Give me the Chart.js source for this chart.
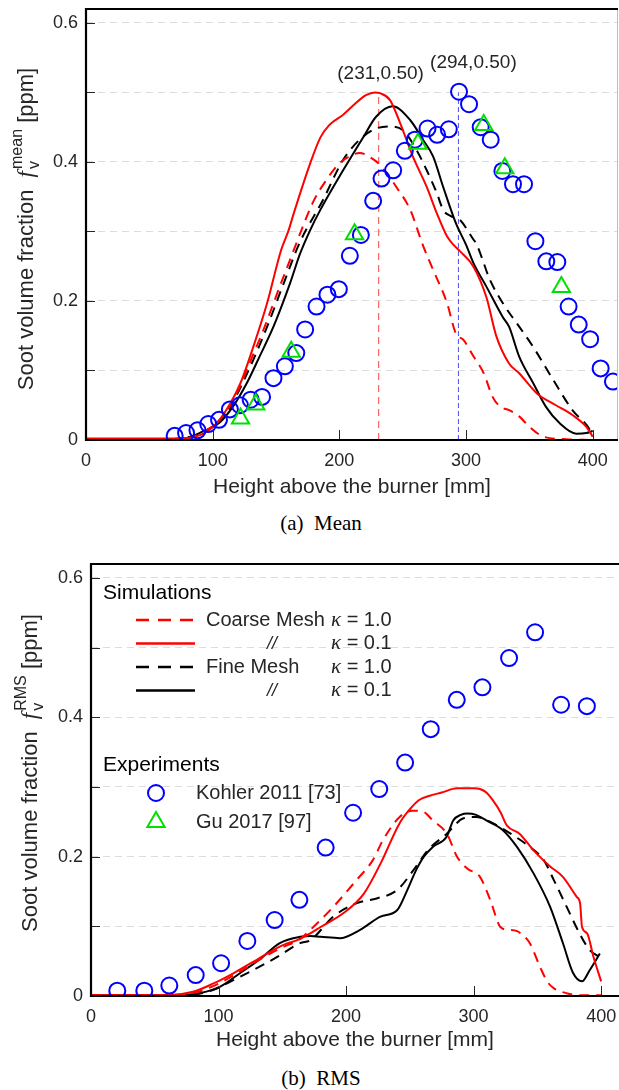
<!DOCTYPE html>
<html>
<head>
<meta charset="utf-8">
<script src="https://cdn.jsdelivr.net/npm/chart.js@4.4.0/dist/chart.umd.min.js"></script>
<style>
  html, body { margin: 0; padding: 0; background: #fff; }
  body { width: 619px; height: 1090px; position: relative; overflow: hidden; }
  canvas { position: absolute; left: 0; }
  .caption { position: absolute; left: 0; width: 642px; text-align: center; font: 21px "Liberation Serif", "Times New Roman", serif; color: #000; white-space: pre; line-height: 24px; }
</style>
</head>
<body>
<canvas id="meanChart" width="619" height="500" style="top:0"></canvas>
<div class="caption" style="top:511px">(a)  Mean</div>
<canvas id="rmsChart" width="619" height="515" style="top:545px"></canvas>
<div class="caption" style="top:1066px">(b)  RMS</div>

<script>
// ---- tick values (shared by both panels) ----
const yTickValues = [0, 0.1, 0.2, 0.3, 0.4, 0.5, 0.6];
const yTickLabels = ['0', '', '0.2', '', '0.4', '', '0.6'];
const xTickValues = [0, 100, 200, 300, 400];
const xTickLabels = ['0', '100', '200', '300', '400'];

// ---- (a) Mean: simulations [height mm, fv ppm] ----
const meanCoarseK1 = [[0,0.001],[60,0.001],[79,0.002],[95,0.014],[108,0.034],[119,0.067],[129,0.110],[140,0.158],[153,0.221],[164,0.273],[169,0.297],[180,0.345],[189,0.372],[200,0.398],[208,0.408],[216,0.413],[224,0.407],[232,0.396],[245,0.364],[256,0.331],[266,0.280],[274,0.245],[285,0.197],[292,0.153],[298,0.144],[306,0.120],[314,0.096],[321,0.062],[327,0.048],[334,0.043],[342,0.034],[350,0.019],[361,0.005],[379,0.001],[400,0.0]];
const meanCoarseK01 = [[0,0.002],[40,0.002],[70,0.002],[90,0.007],[103,0.024],[114,0.053],[122,0.082],[133,0.139],[143,0.197],[154,0.273],[160,0.302],[164,0.326],[177,0.398],[185,0.435],[192,0.453],[203,0.468],[212,0.483],[221,0.496],[228,0.500],[232,0.499],[240,0.489],[248,0.456],[258,0.408],[269,0.364],[277,0.326],[285,0.293],[290,0.281],[295,0.272],[306,0.249],[316,0.206],[324,0.149],[334,0.110],[342,0.096],[356,0.067],[371,0.050],[384,0.036],[395,0.019],[400,0.005]];
const meanFineK1 = [[0,0.001],[60,0.001],[87,0.007],[100,0.019],[111,0.038],[121,0.072],[132,0.115],[143,0.163],[156,0.225],[169,0.285],[187,0.345],[203,0.403],[216,0.432],[229,0.448],[240,0.451],[250,0.446],[261,0.417],[269,0.388],[277,0.355],[282,0.331],[288,0.322],[295,0.317],[306,0.288],[308,0.283],[319,0.230],[329,0.197],[342,0.163],[353,0.134],[369,0.086],[384,0.043],[398,0.014],[400,0.005]];
const meanFineK01 = [[0,0.001],[60,0.001],[77,0.002],[92,0.012],[106,0.026],[116,0.048],[127,0.082],[137,0.120],[148,0.163],[161,0.225],[169,0.268],[177,0.302],[185,0.331],[203,0.388],[219,0.436],[229,0.465],[242,0.480],[256,0.460],[266,0.432],[274,0.408],[282,0.364],[292,0.312],[300,0.281],[306,0.254],[316,0.221],[329,0.177],[334,0.163],[342,0.120],[353,0.082],[363,0.048],[374,0.024],[387,0.009],[395,0.010],[400,0.013]];

// ---- (a) Mean: experiments ----
const meanKohler = [[70,0.006],[79,0.010],[88,0.014],[96.5,0.023],[105,0.029],[113.6,0.044],[121.5,0.050],[130,0.058],[139,0.062],[148,0.089],[157,0.106],[166,0.125],[173,0.159],[182,0.192],[190.6,0.209],[199.6,0.217],[208.3,0.265],[217,0.295],[226.7,0.344],[233.3,0.376],[242.5,0.388],[251.7,0.416],[259.6,0.432],[269.6,0.448],[277.2,0.439],[286.4,0.447],[294.5,0.501],[302.4,0.483],[311.6,0.450],[319.5,0.432],[328.7,0.387],[337.1,0.368],[345.8,0.368],[354.8,0.286],[363.4,0.257],[372.1,0.256],[381,0.192],[389,0.166],[398,0.145],[406.3,0.103],[416,0.084]];
const meanGu = [[122,0.031],[134,0.051],[162,0.127],[212,0.296],[262,0.426],[314,0.453],[330.6,0.391],[375.3,0.220]];

// ---- (a) Mean: peak markers ----
const peakCoarse = [[231,0],[231,0.50]];
const peakKohler = [[294,0],[294,0.50]];
const peakNotes = ['(231,0.50)', '(294,0.50)'];

// ---- (b) RMS: simulations ----
const rmsCoarseK1 = [[0,0.001],[60,0.001],[82,0.005],[98,0.016],[114,0.032],[130,0.050],[148,0.068],[164,0.082],[172,0.095],[190,0.128],[208,0.166],[221,0.195],[229,0.224],[242,0.257],[252,0.266],[260,0.265],[268,0.252],[279,0.233],[287,0.200],[295,0.183],[305,0.171],[313,0.138],[321,0.099],[327,0.095],[334,0.093],[344,0.076],[352,0.042],[358,0.020],[363,0.011],[373,0.004],[385,0.001],[400,0.001]];
const rmsCoarseK01 = [[0,0.001],[60,0.001],[80,0.006],[96,0.018],[112,0.033],[130,0.052],[148,0.071],[164,0.082],[172,0.090],[180,0.099],[198,0.119],[214,0.147],[227,0.190],[242,0.248],[250,0.268],[257,0.281],[265,0.287],[275,0.292],[287,0.298],[300,0.298],[305,0.297],[310,0.292],[315,0.281],[321,0.264],[326,0.245],[336,0.233],[347,0.209],[360,0.186],[370,0.171],[381,0.142],[383.5,0.133],[385,0.099],[389,0.090],[394,0.056],[400,0.021]];
const rmsFineK1 = [[0,0.001],[60,0.001],[80,0.002],[96,0.009],[112,0.023],[127,0.037],[146,0.056],[164,0.076],[172,0.080],[190,0.114],[208,0.133],[224,0.140],[240,0.152],[253,0.181],[264,0.209],[279,0.233],[292,0.255],[302,0.257],[315,0.248],[329,0.233],[344,0.214],[355,0.195],[363,0.166],[373,0.128],[383,0.090],[391,0.066],[399,0.056]];
const rmsFineK01 = [[0,0.001],[60,0.001],[85,0.004],[101,0.013],[117,0.033],[132,0.052],[148,0.076],[164,0.085],[172,0.086],[180,0.085],[195,0.083],[211,0.095],[227,0.114],[240,0.123],[248,0.152],[255,0.181],[261,0.200],[268,0.214],[279,0.229],[284,0.252],[290,0.260],[295,0.262],[302,0.260],[310,0.252],[323,0.238],[334,0.214],[347,0.176],[360,0.128],[370,0.076],[378,0.033],[385,0.021],[391,0.037],[399,0.061]];

// ---- (b) RMS: experiments ----
const rmsKohler = [[20.6,0.0076],[41.8,0.0076],[61.4,0.015],[82.1,0.030],[102,0.047],[122.6,0.079],[144,0.109],[163.4,0.138],[184,0.213],[205.5,0.263],[226,0.297],[246.3,0.335],[266.4,0.383],[286.8,0.425],[306.9,0.443],[327.8,0.485],[348.2,0.522],[368.6,0.418],[388.8,0.416]];
const rmsGu = [];

const SANS = '"Liberation Sans", Arial, Helvetica, sans-serif';
const SERIF = '"Liberation Serif", "Times New Roman", serif';
const TXT = '#262626';

const RED = '#ff0000', BLACK = '#000000', BLUE = '#0000ff', GREEN = '#00e000';
const DASH = [10, 7];

function pts(arr) {
  return arr.map(p => ({ x: p[0], y: p[1] }));
}

function simLine(label, arr, color, dashed) {
  return {
    label: label,
    data: pts(arr),
    showLine: true,
    borderColor: color,
    borderWidth: 2,
    borderDash: dashed ? DASH : [],
    pointRadius: 0,
    cubicInterpolationMode: 'monotone',
    fill: false,
    order: 2
  };
}

function kohlerSet(arr) {
  return {
    label: 'Kohler 2011 [73]',
    data: pts(arr),
    showLine: false,
    pointStyle: 'circle',
    pointRadius: 8,
    pointBorderWidth: 2,
    pointBorderColor: BLUE,
    pointBackgroundColor: 'rgba(0,0,0,0)',
    order: 1
  };
}

function guSet(arr) {
  return {
    label: 'Gu 2017 [97]',
    data: pts(arr),
    showLine: false,
    pointStyle: 'triangle',
    pointRadius: 10,
    pointBorderWidth: 2,
    pointBorderColor: GREEN,
    pointBackgroundColor: 'rgba(0,0,0,0)',
    order: 0
  };
}

function guideLine(arr, color, dash, width) {
  return {
    label: 'peak',
    data: pts(arr),
    showLine: true,
    borderColor: color,
    borderWidth: width,
    borderDash: dash,
    pointRadius: 0,
    order: 3
  };
}

// y title with f_v sub/superscript, drawn rotated
function drawYTitle(ctx, cx, cy, sup) {
  const main = 'Soot volume fraction  ';
  ctx.save();
  ctx.translate(cx, cy);
  ctx.rotate(-Math.PI / 2);
  ctx.fillStyle = TXT;
  ctx.textBaseline = 'alphabetic';
  ctx.textAlign = 'left';
  ctx.font = '22px ' + SANS;
  const w0 = ctx.measureText(main).width;
  const wend = ctx.measureText(' [ppm]').width;
  ctx.font = 'italic 23px ' + SERIF;
  const wf = ctx.measureText('f').width + 2;
  ctx.font = '16px ' + SANS;
  const wsub = ctx.measureText('v').width;
  const wsup = ctx.measureText(sup).width;
  const total = w0 + wf + Math.max(wsub, wsup) + wend;
  let x = -total / 2;
  ctx.font = '22px ' + SANS;
  ctx.fillText(main, x, 0);
  x += w0;
  ctx.font = 'italic 23px ' + SERIF;
  ctx.fillText('f', x, 0);
  x += wf;
  ctx.font = '16px ' + SANS;
  ctx.fillText('v', x, 6);
  ctx.fillText(sup, x, -11);
  x += Math.max(wsub, wsup);
  ctx.font = '22px ' + SANS;
  ctx.fillText(' [ppm]', x, 0);
  ctx.restore();
}

const framePlugin = {
  id: 'frame',
  afterDraw(chart, args, opts) {
    const ctx = chart.ctx;
    const a = chart.chartArea;
    const xs = chart.scales.x, ys = chart.scales.y;
    ctx.save();
    // inner tick marks
    ctx.strokeStyle = TXT;
    ctx.lineWidth = 1;
    ctx.beginPath();
    yTickValues.forEach(v => {
      const py = Math.round(ys.getPixelForValue(v)) + 0.5;
      ctx.moveTo(a.left, py);
      ctx.lineTo(a.left + 9, py);
    });
    xTickValues.forEach(v => {
      const px = Math.round(xs.getPixelForValue(v)) + 0.5;
      ctx.moveTo(px, a.bottom);
      ctx.lineTo(px, a.bottom - 10);
    });
    ctx.stroke();
    // right border (light)
    if (opts.rightBorder) {
      ctx.strokeStyle = '#bdbdbd';
      ctx.lineWidth = 1;
      ctx.beginPath();
      ctx.moveTo(a.right - 0.5, a.top);
      ctx.lineTo(a.right - 0.5, a.bottom);
      ctx.stroke();
    }
    // axes + top border
    ctx.strokeStyle = '#000';
    ctx.lineWidth = 2.2;
    ctx.beginPath();
    ctx.moveTo(a.right, a.top);
    ctx.lineTo(a.left, a.top);
    ctx.lineTo(a.left, a.bottom);
    ctx.lineTo(a.right, a.bottom);
    ctx.stroke();

    // axis titles
    drawYTitle(ctx, opts.yTitleX, opts.yTitleY, opts.sup);
    ctx.fillStyle = TXT;
    ctx.font = '21px ' + SANS;
    ctx.textAlign = 'center';
    ctx.textBaseline = 'middle';
    ctx.fillText('Height above the burner [mm]', (a.left + a.right) / 2, opts.xTitleY);

    // peak annotations
    (opts.notes || []).forEach(n => {
      const px = xs.getPixelForValue(n.x) + n.dx;
      const py = ys.getPixelForValue(n.y) + n.dy;
      ctx.font = '19px ' + SANS;
      ctx.fillStyle = TXT;
      ctx.textAlign = 'center';
      ctx.textBaseline = 'middle';
      ctx.fillText(n.text, px, py);
    });

    if (opts.legend) drawLegend(chart, ctx);
    ctx.restore();
  }
};

function drawLegend(chart, ctx) {
  const ds = chart.data.datasets;
  ctx.save();
  ctx.fillStyle = '#000';
  ctx.textBaseline = 'middle';
  ctx.textAlign = 'left';
  ctx.font = '21px ' + SANS;
  ctx.fillText('Simulations', 103, 48);
  const rows = [
    { i: 0, name: 'Coarse Mesh', k: '1.0' },
    { i: 1, name: '//', k: '0.1' },
    { i: 2, name: 'Fine Mesh', k: '1.0' },
    { i: 3, name: '//', k: '0.1' }
  ];
  rows.forEach((r, j) => {
    const y = 75 + j * 23.5;
    ctx.strokeStyle = ds[r.i].borderColor;
    ctx.lineWidth = 2.5;
    ctx.setLineDash(ds[r.i].borderDash.length ? [13, 9] : []);
    ctx.beginPath();
    ctx.moveTo(136, y);
    ctx.lineTo(195, y);
    ctx.stroke();
    ctx.setLineDash([]);
    ctx.fillStyle = TXT;
    if (r.name === '//') {
      ctx.font = 'italic 18px ' + SANS;
      ctx.textAlign = 'center';
      ctx.fillText('//', 272, y);
      ctx.textAlign = 'left';
    } else {
      ctx.font = '20px ' + SANS;
      ctx.fillText(r.name, 206, y);
    }
    ctx.font = 'italic 21px ' + SERIF;
    ctx.fillText('\u03ba', 331, y);
    const wk = ctx.measureText('\u03ba').width;
    ctx.font = '20px ' + SANS;
    ctx.fillText(' = ' + r.k, 331 + wk, y);
  });
  ctx.font = '21px ' + SANS;
  ctx.fillStyle = '#000';
  ctx.fillText('Experiments', 103, 220);
  // Kohler marker
  ctx.strokeStyle = BLUE;
  ctx.lineWidth = 2;
  ctx.beginPath();
  ctx.arc(156, 248, 8, 0, Math.PI * 2);
  ctx.stroke();
  // Gu marker
  ctx.strokeStyle = GREEN;
  ctx.beginPath();
  ctx.moveTo(156, 277 - 10);
  ctx.lineTo(156 + 8.7, 277 + 5);
  ctx.lineTo(156 - 8.7, 277 + 5);
  ctx.closePath();
  ctx.stroke();
  ctx.fillStyle = TXT;
  ctx.font = '20px ' + SANS;
  ctx.fillText('Kohler 2011 [73]', 196, 248);
  ctx.fillText('Gu 2017 [97]', 196, 277);
  ctx.restore();
}

function makeOptions(cfg) {
  return {
    responsive: false,
    animation: false,
    events: [],
    layout: { autoPadding: false, padding: { top: cfg.padTop, right: cfg.padRight, left: 0, bottom: 0 } },
    plugins: {
      legend: { display: false },
      tooltip: { enabled: false },
      frame: cfg.frame
    },
    scales: {
      x: {
        type: 'linear',
        min: 0,
        max: cfg.xMax,
        afterBuildTicks: s => { s.ticks = xTickValues.map(v => ({ value: v })); },
        afterFit: s => { s.height = cfg.xHeight; s.paddingLeft = 0; s.paddingRight = 0; },
        grid: { display: false, drawTicks: false },
        border: { display: false },
        ticks: {
          padding: 10,
          color: TXT,
          font: { family: SANS, size: 18 },
          maxRotation: 0,
          callback: (v, i) => xTickLabels[i]
        }
      },
      y: {
        type: 'linear',
        min: 0,
        max: 0.62,
        afterBuildTicks: s => { s.ticks = yTickValues.map(v => ({ value: v })); },
        afterFit: s => { s.width = cfg.yWidth; s.paddingTop = 0; s.paddingBottom = 0; },
        grid: { color: '#dcdcdc', lineWidth: 1, drawTicks: false },
        border: { display: false, dash: [7, 5] },
        ticks: {
          padding: 8,
          color: TXT,
          font: { family: SANS, size: 18 },
          callback: (v, i) => yTickLabels[i]
        }
      }
    }
  };
}

new Chart(document.getElementById('meanChart'), {
  type: 'scatter',
  data: {
    datasets: [
      simLine('Coarse Mesh k=1.0', meanCoarseK1, RED, true),
      simLine('Coarse Mesh k=0.1', meanCoarseK01, RED, false),
      simLine('Fine Mesh k=1.0', meanFineK1, BLACK, true),
      simLine('Fine Mesh k=0.1', meanFineK01, BLACK, false),
      kohlerSet(meanKohler),
      guSet(meanGu),
      guideLine(peakCoarse, '#ff6a6a', [7, 5], 1.3),
      guideLine(peakKohler, '#4a4aff', [5, 3], 1)
    ]
  },
  options: makeOptions({
    padTop: 9, padRight: 1, xMax: 420, xHeight: 60, yWidth: 86,
    frame: {
      rightBorder: true,
      sup: 'mean',
      yTitleX: 33, yTitleY: 229,
      xTitleY: 487,
      notes: [
        { x: peakCoarse[1][0], y: peakCoarse[1][1], text: peakNotes[0], dx: 2, dy: -19 },
        { x: peakKohler[1][0], y: peakKohler[1][1], text: peakNotes[1], dx: 15, dy: -30 }
      ]
    }
  }),
  plugins: [framePlugin]
});

new Chart(document.getElementById('rmsChart'), {
  type: 'scatter',
  data: {
    datasets: [
      simLine('Coarse Mesh k=1.0', rmsCoarseK1, RED, true),
      simLine('Coarse Mesh k=0.1', rmsCoarseK01, RED, false),
      simLine('Fine Mesh k=1.0', rmsFineK1, BLACK, true),
      simLine('Fine Mesh k=0.1', rmsFineK01, BLACK, false),
      kohlerSet(rmsKohler),
      guSet(rmsGu)
    ]
  },
  options: makeOptions({
    padTop: 19, padRight: 0, xMax: 414, xHeight: 64, yWidth: 91,
    frame: {
      rightBorder: false,
      legend: true,
      sup: 'RMS',
      yTitleX: 37, yTitleY: 228,
      xTitleY: 495
    }
  }),
  plugins: [framePlugin]
});
</script>
</body>
</html>
